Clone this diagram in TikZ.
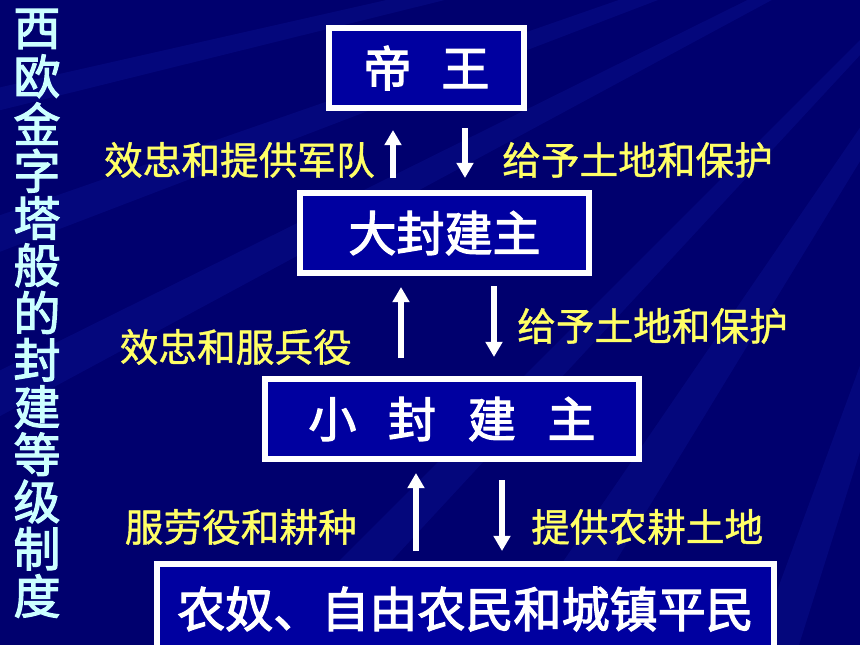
\documentclass[tikz,border=0pt]{standalone}
\usepackage{fontspec}
\newfontfamily\cjk{Noto Sans CJK SC}[FakeBold=1]
\newfontfamily\cjkheavy{Noto Sans CJK SC}[FakeBold=2.5]
\usetikzlibrary{arrows.meta}
\definecolor{bgblue}{RGB}{0,0,110}
\definecolor{boxblue}{RGB}{0,0,160}
\definecolor{streakblue}{RGB}{40,60,230}
\definecolor{giftyellow}{RGB}{255,255,102}
\definecolor{titlecyan}{RGB}{204,255,255}

\begin{document}
\begin{tikzpicture}[x=0.03cm,y=-0.03cm,
    level/.style={draw=white,line width=5.1pt,fill=boxblue,text=white,inner sep=0pt,
      minimum height=2.4cm,font=\cjkheavy\fontsize{41}{41}\selectfont},
    gift/.style={text=giftyellow,inner sep=0pt,font=\cjk\fontsize{33}{33}\selectfont},
    title/.style={text=titlecyan,inner sep=0pt,font=\cjkheavy\fontsize{40}{40}\selectfont},
    duty/.style={white,line width=4.8pt,-{Triangle[length=13pt,width=14pt]}}]
  \fill[bgblue] (0,0) rectangle (860,645);
  \useasboundingbox (0,0) rectangle (860,645);
  % streaks:
  \foreach \ax/\ay/\bx/\by in {-100/110/-100/135, -100/250/-100/290, -100/420/-100/470,
                               100/800/170/800, 400/800/470/800, 700/800/750/800}
     \fill[streakblue,opacity=0.12] (1050,-150) -- (\ax,\ay) -- (\bx,\by) -- cycle;

  % title:
  \foreach \ch [count=\i from 0] in {西,欧,金,字,塔,般,的,封,建,等,级,制,度}
     \node[title] (title\i) at (37,29+47.25*\i) {\ch};

  \node[level,minimum width=5.85cm] (emperor) at (426.5,68) {帝\hspace{0.9cm}王};
  \node[level,minimum width=8.67cm] (bigLord) at (444.5,233) {大封建主};
  \node[level,minimum width=11.22cm] (smallLord) at (452,419)
     {小\hspace{0.95cm}封\hspace{0.95cm}建\hspace{0.95cm}主};
  \node[level,minimum width=18.51cm,minimum height=2.7cm,
        font=\cjkheavy\fontsize{41}{41}\selectfont] (peasants) at (465.5,609)
     {农奴、自由农民和城镇平民};

  \node[gift,anchor=east] (loyal1) at (375,160) {效忠和提供军队};
  \node[gift,anchor=west] (grant1) at (502,160) {给予土地和保护};
  \node[gift,anchor=east] (loyal2) at (352,347) {效忠和服兵役};
  \node[gift,anchor=west] (grant2) at (517,326) {给予土地和保护};
  \node[gift,anchor=east] (labor3) at (357,527) {服劳役和耕种};
  \node[gift,anchor=west] (grant3) at (531,527) {提供农耕土地};

  % arrows:
  \foreach \n/\x/\ya/\yb in {up1/393/178/130, down1/465/128/178, up2/401/358/287,
                             down2/494/286/357, up3/416/551/473, down3/502/480/551} {
     \coordinate (\n s) at (\x,\ya);
     \coordinate (\n e) at (\x,\yb);
     \draw[duty] (\n s) -- (\n e);
  }
\end{tikzpicture}
\end{document}
